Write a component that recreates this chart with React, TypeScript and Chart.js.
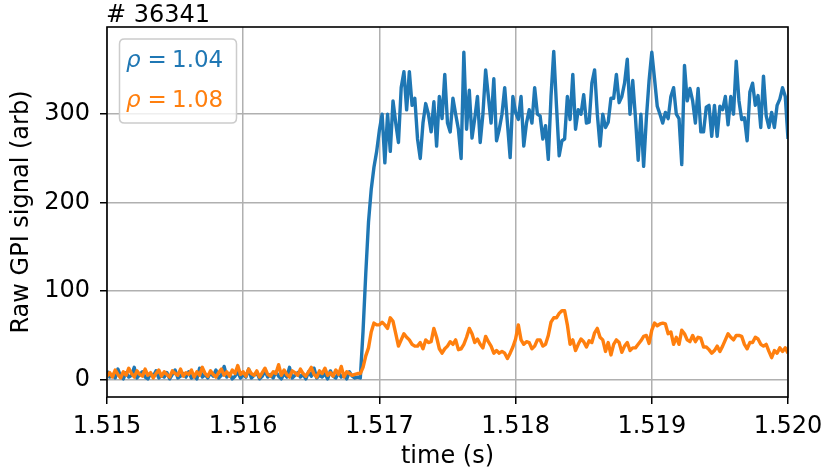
import React, { useEffect, useRef } from 'react';
import { Chart, registerables } from 'chart.js';

Chart.register(...registerables);

const TITLE = '# 36341';
const X_LABEL = 'time (s)';
const Y_LABEL = 'Raw GPI signal (arb)';
const X_TICKS = [1.515, 1.516, 1.517, 1.518, 1.519, 1.52];
const Y_TICKS = [0, 100, 200, 300];
const X_MIN = 1.515;
const X_MAX = 1.52;
const Y_MIN = -19.5;
const Y_MAX = 398.5;

// sampling grid of the signal
const T0 = 1.515;
const DT = 0.00002;

const RHO_LABELS = ['1.04', '1.08'];

// rho = 1.04 (blue)
const BLUE_BASE = [
  10, 3, 6, 2, 12, 4, 1, 8, 3, 5,
  14, 2, 6, 9, 3, 1, 7, 4, 10, 2,
  5, 3, 8, 1, 6, 11, 2, 4, 7, 3,
  9, 2, 5, 1, 13, 3, 6, 2, 8, 4,
  11, 2, 5, 15, 3, 7, 1, 4, 9, 2,
  6, 3, 12, 2, 5, 8, 1, 4, 10, 3,
  6, 2, 9, 4, 1, 7, 3, 14, 2, 5,
  8, 3, 6, 1, 9, 4, 13, 2, 5, 3,
  7, 1, 10, 4, 2, 8, 3, 6, 1, 9,
  4, 2,
];
const BLUE_RISE = [3, 2, 55, 120, 178, 215, 240, 258];
const BLUE_PLATEAU = [
  282, 300, 245, 300, 258, 315, 290, 268, 330, 348,
  305, 348, 310, 318, 272, 250, 290, 312, 300, 280,
  314, 264, 320, 295, 345, 290, 280, 318, 300, 283,
  250, 370, 283, 327, 273, 295, 320, 268, 300, 350,
  320, 290, 340, 270, 283, 300, 330, 290, 251, 320,
  302, 294, 320, 264, 290, 305, 290, 330, 300, 298,
  272, 287, 249, 320, 371, 310, 253, 270, 272, 320,
  294, 345, 283, 305, 300, 322, 290, 291, 335, 350,
  300, 264, 300, 285, 291, 318, 318, 345, 313, 320,
  335, 362, 300, 338, 296, 248, 300, 241, 295, 338,
  370, 340, 309, 300, 290, 302, 295, 320, 330, 300,
  295, 243, 355, 315, 329, 315, 290, 329, 280, 280,
  308, 310, 275, 310, 275, 309, 305, 320, 288, 320,
  300, 360, 315, 294, 296, 270, 325, 335, 310, 321,
  285, 343, 298, 285, 302, 285, 310, 317, 330, 320,
  272,
];

// rho = 1.08 (orange)
const ORANGE_BASE = [
  4, 8, 3, 11, 6, 2, 9, 5, 13, 7,
  3, 10, 6, 4, 12, 5, 8, 2, 7, 11,
  4, 9, 6, 3, 10, 7, 5, 12, 4, 8,
  6, 11, 3, 9, 5, 14, 7, 4, 10, 6,
  3, 8, 12, 5, 9, 4, 11, 7, 16, 6,
  9, 4, 12, 7, 5, 10, 3, 8, 13, 6,
  4, 9, 7, 17, 5, 11, 6, 3, 10, 8,
  5, 12, 7, 4, 9, 14, 6, 3, 10, 7,
  13, 5, 8, 4, 11, 6, 15, 3, 9, 7,
  5,
];
const ORANGE_RISE = [6, 7, 7, 14, 27, 36, 54, 64, 62, 62];
const ORANGE_PLATEAU = [
  65, 62, 58, 70, 66, 52, 38, 45, 52, 48,
  45, 40, 38, 38, 42, 35, 45, 42, 43, 58,
  48, 35, 30, 35, 38, 43, 40, 45, 34, 35,
  40, 48, 58, 52, 42, 46, 40, 36, 49, 43,
  38, 30, 33, 30, 32, 30, 24, 30, 37, 46,
  62, 45, 40, 43, 42, 35, 38, 45, 45, 38,
  40, 50, 65, 70, 70, 75, 78, 78, 62, 40,
  45, 33, 40, 46, 43, 37, 44, 42, 53, 58,
  48, 45, 32, 42, 28, 40, 45, 42, 31, 38,
  42, 33, 36, 36, 40, 44, 49, 50, 41, 56,
  64, 61, 63, 64, 63, 52, 54, 40, 48, 40,
  56, 52, 45, 43, 50, 43, 48, 47, 37, 37,
  34, 30, 33, 38, 32, 38, 45, 52, 48, 45,
  50, 50, 49, 40, 35, 42, 42, 48, 46, 40,
  38, 40, 32, 25, 33, 30, 36, 32, 36, 30,
];

const BLUE = '#1f77b4';
const ORANGE = '#ff7f0e';
const FONT = "'DejaVu Sans', sans-serif";
const FS = 24;

const toPoints = (vals: number[]) => vals.map((v, i) => ({ x: T0 + i * DT, y: v }));

const decorPlugin = {
  id: 'decor',
  afterDraw(chart: any) {
    const { ctx, chartArea } = chart;
    const { left, right, top, bottom } = chartArea;
    ctx.save();
    // frame
    ctx.strokeStyle = '#000';
    ctx.lineWidth = 1.6;
    ctx.strokeRect(left, top, right - left, bottom - top);
    // title
    ctx.fillStyle = '#000';
    ctx.font = `${FS}px ${FONT}`;
    ctx.textBaseline = 'alphabetic';
    ctx.textAlign = 'left';
    ctx.fillText(TITLE, left - 1, 22);
    // legend box
    const bx = left + 12.5, by = top + 12, bw = 117, bh = 84, r = 5;
    ctx.beginPath();
    ctx.moveTo(bx + r, by);
    ctx.lineTo(bx + bw - r, by);
    ctx.quadraticCurveTo(bx + bw, by, bx + bw, by + r);
    ctx.lineTo(bx + bw, by + bh - r);
    ctx.quadraticCurveTo(bx + bw, by + bh, bx + bw - r, by + bh);
    ctx.lineTo(bx + r, by + bh);
    ctx.quadraticCurveTo(bx, by + bh, bx, by + bh - r);
    ctx.lineTo(bx, by + r);
    ctx.quadraticCurveTo(bx, by, bx + r, by);
    ctx.closePath();
    ctx.fillStyle = 'rgba(255,255,255,0.8)';
    ctx.fill();
    ctx.strokeStyle = '#cccccc';
    ctx.lineWidth = 1.5;
    ctx.stroke();
    const rows = [
      { label: RHO_LABELS[0], color: BLUE, y: 67 },
      { label: RHO_LABELS[1], color: ORANGE, y: 106.5 },
    ];
    rows.forEach((row) => {
      ctx.fillStyle = row.color;
      ctx.font = `italic 23px ${FONT}`;
      ctx.fillText('\u03C1', 126, row.y);
      ctx.font = `23px ${FONT}`;
      ctx.fillText('=', 147.5, row.y);
      ctx.fillText(row.label, 172, row.y);
    });
    ctx.restore();
  },
};

export default function App() {
  const ref = useRef<HTMLCanvasElement>(null);
  useEffect(() => {
    if (!ref.current) return;
    const blue = [...BLUE_BASE, ...BLUE_RISE, ...BLUE_PLATEAU];
    const orange = [...ORANGE_BASE, ...ORANGE_RISE, ...ORANGE_PLATEAU];
    const chart = new Chart(ref.current, {
      type: 'line',
      data: {
        datasets: [
          {
            label: 'rho = ' + RHO_LABELS[0],
            data: toPoints(blue),
            borderColor: BLUE,
            backgroundColor: BLUE,
            borderWidth: 3.4,
            pointRadius: 0,
            tension: 0,
            borderJoinStyle: 'round',
            order: 1,
          },
          {
            label: 'rho = ' + RHO_LABELS[1],
            data: toPoints(orange),
            borderColor: ORANGE,
            backgroundColor: ORANGE,
            borderWidth: 3.4,
            pointRadius: 0,
            tension: 0,
            borderJoinStyle: 'round',
            order: 0,
          },
        ],
      },
      options: {
        responsive: false,
        animation: false,
        parsing: true,
        layout: { padding: { left: 0, top: 27, right: 38, bottom: 0 } },
        plugins: {
          legend: { display: false },
          title: { display: false },
          tooltip: { enabled: false },
        },
        scales: {
          x: {
            type: 'linear',
            min: X_MIN,
            max: X_MAX,
            afterBuildTicks: (s: any) => {
              s.ticks = X_TICKS.map((v) => ({ value: v }));
            },
            afterFit: (s: any) => {
              s.height = 77;
              s.paddingLeft = 0;
              s.paddingRight = 0;
            },
            grid: { color: '#b0b0b0', lineWidth: 1.5, tickColor: '#000', tickLength: 7, drawTicks: true },
            border: { display: false },
            ticks: {
              color: '#000',
              font: { family: FONT, size: FS },
              padding: 8,
              maxRotation: 0,
              autoSkip: false,
              callback: (v: any) => Number(v).toFixed(3),
            },
            title: {
              display: true,
              text: X_LABEL,
              color: '#000',
              font: { family: FONT, size: FS },
              padding: { top: 0, bottom: 3 },
            },
          },
          y: {
            type: 'linear',
            min: Y_MIN,
            max: Y_MAX,
            afterBuildTicks: (s: any) => {
              s.ticks = Y_TICKS.map((v) => ({ value: v }));
            },
            afterFit: (s: any) => {
              s.width = 107;
              s.paddingTop = 0;
              s.paddingBottom = 0;
            },
            grid: { color: '#b0b0b0', lineWidth: 1.5, tickColor: '#000', tickLength: 7, drawTicks: true },
            border: { display: false },
            ticks: {
              color: '#000',
              font: { family: FONT, size: FS },
              padding: 10,
              autoSkip: false,
              callback: (v: any) => String(v),
            },
            title: {
              display: true,
              text: Y_LABEL,
              color: '#000',
              font: { family: FONT, size: FS },
              padding: { top: 7, bottom: 0 },
            },
          },
        },
      },
      plugins: [decorPlugin],
    });
    return () => chart.destroy();
  }, []);
  return (
    <div style={{ position: 'fixed', left: 0, top: 0, width: 826, height: 474, background: '#fff' }}>
      <canvas ref={ref} width={826} height={474} style={{ display: 'block' }} />
    </div>
  );
}
